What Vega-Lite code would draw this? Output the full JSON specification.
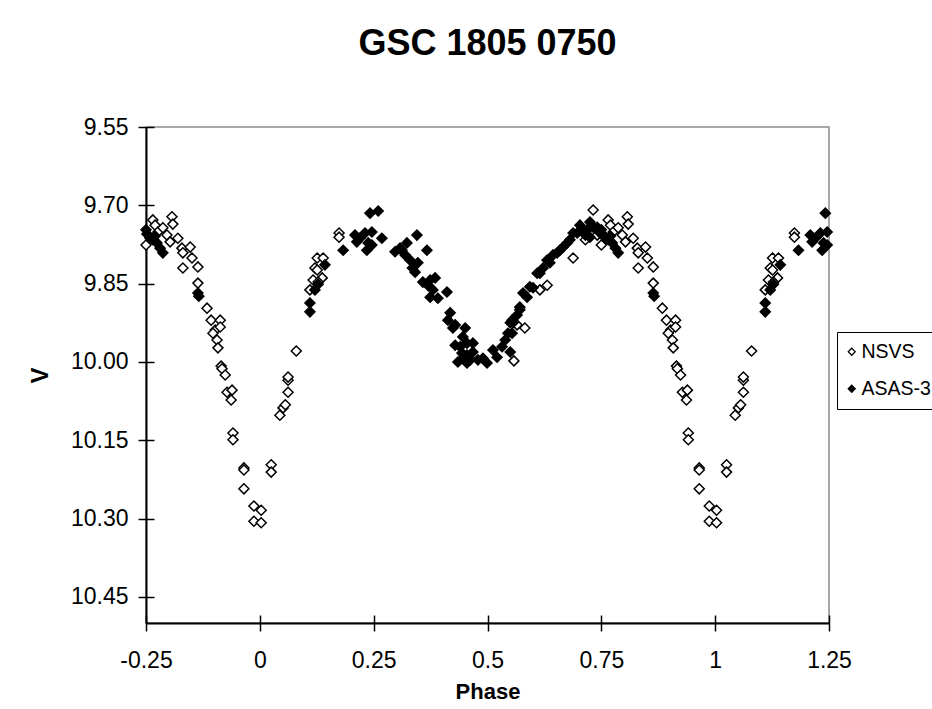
{
  "$schema": "https://vega.github.io/schema/vega-lite/v6.json",
  "width": 683,
  "height": 496,
  "autosize": "none",
  "padding": {"left": 146, "top": 127, "right": 103, "bottom": 86},
  "background": "white",
  "title": {"text": "GSC 1805 0750", "font": "Liberation Sans", "fontSize": 36, "fontWeight": "bold", "color": "black", "anchor": "middle", "baseline": "alphabetic", "offset": 25},
  "config": {
    "view": {"stroke": "#8c8c8c", "strokeWidth": 1.5},
    "axis": {"grid": false, "labelFlush": false, "labelFont": "Liberation Sans", "labelFontSize": 23, "labelColor": "black", "tickColor": "black", "tickWidth": 1.5, "tickSize": 8, "domainColor": "black", "domainWidth": 2, "titleFont": "Liberation Sans", "titleColor": "black", "titleFontWeight": "bold"}
  },
  "data": {"values": [
    {"p": -0.25, "v": 9.776, "s": "NSVS"}, {"p": -0.241, "v": 9.761, "s": "NSVS"}, {"p": -0.235, "v": 9.728, "s": "NSVS"}, {"p": -0.23, "v": 9.738, "s": "NSVS"}, {"p": -0.224, "v": 9.751, "s": "NSVS"}, {"p": -0.213, "v": 9.743, "s": "NSVS"}, {"p": -0.204, "v": 9.757, "s": "NSVS"}, {"p": -0.197, "v": 9.77, "s": "NSVS"}, {"p": -0.193, "v": 9.722, "s": "NSVS"}, {"p": -0.191, "v": 9.736, "s": "NSVS"},
    {"p": -0.18, "v": 9.763, "s": "NSVS"}, {"p": -0.171, "v": 9.782, "s": "NSVS"}, {"p": -0.169, "v": 9.791, "s": "NSVS"}, {"p": -0.153, "v": 9.78, "s": "NSVS"}, {"p": -0.149, "v": 9.801, "s": "NSVS"}, {"p": -0.169, "v": 9.82, "s": "NSVS"}, {"p": -0.136, "v": 9.818, "s": "NSVS"}, {"p": -0.136, "v": 9.849, "s": "NSVS"}, {"p": -0.116, "v": 9.897, "s": "NSVS"}, {"p": -0.107, "v": 9.92, "s": "NSVS"},
    {"p": -0.087, "v": 9.92, "s": "NSVS"}, {"p": -0.098, "v": 9.939, "s": "NSVS"}, {"p": -0.087, "v": 9.933, "s": "NSVS"}, {"p": -0.094, "v": 9.958, "s": "NSVS"}, {"p": -0.092, "v": 9.973, "s": "NSVS"}, {"p": -0.103, "v": 9.945, "s": "NSVS"}, {"p": -0.085, "v": 10.008, "s": "NSVS"}, {"p": -0.083, "v": 10.013, "s": "NSVS"}, {"p": -0.076, "v": 10.025, "s": "NSVS"}, {"p": -0.072, "v": 10.058, "s": "NSVS"},
    {"p": -0.061, "v": 10.054, "s": "NSVS"}, {"p": -0.063, "v": 10.073, "s": "NSVS"}, {"p": -0.059, "v": 10.136, "s": "NSVS"}, {"p": -0.059, "v": 10.149, "s": "NSVS"}, {"p": -0.035, "v": 10.203, "s": "NSVS"}, {"p": -0.035, "v": 10.207, "s": "NSVS"}, {"p": -0.035, "v": 10.243, "s": "NSVS"}, {"p": -0.013, "v": 10.276, "s": "NSVS"}, {"p": 0.003, "v": 10.284, "s": "NSVS"}, {"p": -0.013, "v": 10.305, "s": "NSVS"},
    {"p": 0.003, "v": 10.308, "s": "NSVS"}, {"p": 0.025, "v": 10.197, "s": "NSVS"}, {"p": 0.025, "v": 10.211, "s": "NSVS"}, {"p": 0.044, "v": 10.102, "s": "NSVS"}, {"p": 0.051, "v": 10.088, "s": "NSVS"}, {"p": 0.056, "v": 10.082, "s": "NSVS"}, {"p": 0.062, "v": 10.058, "s": "NSVS"}, {"p": 0.062, "v": 10.035, "s": "NSVS"}, {"p": 0.062, "v": 10.029, "s": "NSVS"}, {"p": 0.08, "v": 9.979, "s": "NSVS"},
    {"p": 0.11, "v": 9.862, "s": "NSVS"}, {"p": 0.117, "v": 9.843, "s": "NSVS"}, {"p": 0.126, "v": 9.801, "s": "NSVS"}, {"p": 0.139, "v": 9.801, "s": "NSVS"}, {"p": 0.121, "v": 9.82, "s": "NSVS"}, {"p": 0.126, "v": 9.824, "s": "NSVS"}, {"p": 0.137, "v": 9.839, "s": "NSVS"}, {"p": 0.128, "v": 9.847, "s": "NSVS"}, {"p": 0.174, "v": 9.753, "s": "NSVS"}, {"p": 0.174, "v": 9.761, "s": "NSVS"},
    {"p": 0.75, "v": 9.776, "s": "NSVS"}, {"p": 0.759, "v": 9.761, "s": "NSVS"}, {"p": 0.765, "v": 9.728, "s": "NSVS"}, {"p": 0.77, "v": 9.738, "s": "NSVS"}, {"p": 0.776, "v": 9.751, "s": "NSVS"}, {"p": 0.787, "v": 9.743, "s": "NSVS"}, {"p": 0.796, "v": 9.757, "s": "NSVS"}, {"p": 0.803, "v": 9.77, "s": "NSVS"}, {"p": 0.807, "v": 9.722, "s": "NSVS"}, {"p": 0.809, "v": 9.736, "s": "NSVS"},
    {"p": 0.82, "v": 9.763, "s": "NSVS"}, {"p": 0.829, "v": 9.782, "s": "NSVS"}, {"p": 0.831, "v": 9.791, "s": "NSVS"}, {"p": 0.847, "v": 9.78, "s": "NSVS"}, {"p": 0.851, "v": 9.801, "s": "NSVS"}, {"p": 0.831, "v": 9.82, "s": "NSVS"}, {"p": 0.864, "v": 9.818, "s": "NSVS"}, {"p": 0.864, "v": 9.849, "s": "NSVS"}, {"p": 0.884, "v": 9.897, "s": "NSVS"}, {"p": 0.893, "v": 9.92, "s": "NSVS"},
    {"p": 0.913, "v": 9.92, "s": "NSVS"}, {"p": 0.902, "v": 9.939, "s": "NSVS"}, {"p": 0.913, "v": 9.933, "s": "NSVS"}, {"p": 0.906, "v": 9.958, "s": "NSVS"}, {"p": 0.908, "v": 9.973, "s": "NSVS"}, {"p": 0.897, "v": 9.945, "s": "NSVS"}, {"p": 0.915, "v": 10.008, "s": "NSVS"}, {"p": 0.917, "v": 10.013, "s": "NSVS"}, {"p": 0.924, "v": 10.025, "s": "NSVS"}, {"p": 0.928, "v": 10.058, "s": "NSVS"},
    {"p": 0.939, "v": 10.054, "s": "NSVS"}, {"p": 0.937, "v": 10.073, "s": "NSVS"}, {"p": 0.941, "v": 10.136, "s": "NSVS"}, {"p": 0.941, "v": 10.149, "s": "NSVS"}, {"p": 0.965, "v": 10.203, "s": "NSVS"}, {"p": 0.965, "v": 10.207, "s": "NSVS"}, {"p": 0.965, "v": 10.243, "s": "NSVS"}, {"p": 0.987, "v": 10.276, "s": "NSVS"}, {"p": 1.003, "v": 10.284, "s": "NSVS"}, {"p": 0.987, "v": 10.305, "s": "NSVS"},
    {"p": 1.003, "v": 10.308, "s": "NSVS"}, {"p": 1.025, "v": 10.197, "s": "NSVS"}, {"p": 1.025, "v": 10.211, "s": "NSVS"}, {"p": 1.044, "v": 10.102, "s": "NSVS"}, {"p": 1.051, "v": 10.088, "s": "NSVS"}, {"p": 1.056, "v": 10.082, "s": "NSVS"}, {"p": 1.062, "v": 10.058, "s": "NSVS"}, {"p": 1.062, "v": 10.035, "s": "NSVS"}, {"p": 1.062, "v": 10.029, "s": "NSVS"}, {"p": 1.08, "v": 9.979, "s": "NSVS"},
    {"p": 1.11, "v": 9.862, "s": "NSVS"}, {"p": 1.117, "v": 9.843, "s": "NSVS"}, {"p": 1.126, "v": 9.801, "s": "NSVS"}, {"p": 1.139, "v": 9.801, "s": "NSVS"}, {"p": 1.121, "v": 9.82, "s": "NSVS"}, {"p": 1.126, "v": 9.824, "s": "NSVS"}, {"p": 1.137, "v": 9.839, "s": "NSVS"}, {"p": 1.128, "v": 9.847, "s": "NSVS"}, {"p": 1.174, "v": 9.753, "s": "NSVS"}, {"p": 1.174, "v": 9.761, "s": "NSVS"},
    {"p": 0.558, "v": 9.998, "s": "NSVS"}, {"p": 0.565, "v": 9.929, "s": "NSVS"}, {"p": 0.582, "v": 9.935, "s": "NSVS"}, {"p": 0.615, "v": 9.862, "s": "NSVS"}, {"p": 0.631, "v": 9.853, "s": "NSVS"}, {"p": 0.688, "v": 9.801, "s": "NSVS"}, {"p": 0.732, "v": 9.709, "s": "NSVS"}, {"p": 0.741, "v": 9.757, "s": "NSVS"}, {"p": 0.715, "v": 9.766, "s": "NSVS"},
    {"p": -0.25, "v": 9.747, "s": "ASAS-3"}, {"p": -0.248, "v": 9.755, "s": "ASAS-3"}, {"p": -0.241, "v": 9.763, "s": "ASAS-3"}, {"p": -0.235, "v": 9.766, "s": "ASAS-3"}, {"p": -0.23, "v": 9.759, "s": "ASAS-3"}, {"p": -0.226, "v": 9.772, "s": "ASAS-3"}, {"p": -0.219, "v": 9.782, "s": "ASAS-3"}, {"p": -0.213, "v": 9.791, "s": "ASAS-3"}, {"p": -0.136, "v": 9.868, "s": "ASAS-3"}, {"p": -0.134, "v": 9.874, "s": "ASAS-3"},
    {"p": 0.75, "v": 9.747, "s": "ASAS-3"}, {"p": 0.752, "v": 9.755, "s": "ASAS-3"}, {"p": 0.759, "v": 9.763, "s": "ASAS-3"}, {"p": 0.765, "v": 9.766, "s": "ASAS-3"}, {"p": 0.77, "v": 9.759, "s": "ASAS-3"}, {"p": 0.774, "v": 9.772, "s": "ASAS-3"}, {"p": 0.781, "v": 9.782, "s": "ASAS-3"}, {"p": 0.787, "v": 9.791, "s": "ASAS-3"}, {"p": 0.864, "v": 9.868, "s": "ASAS-3"}, {"p": 0.866, "v": 9.874, "s": "ASAS-3"},
    {"p": 0.11, "v": 9.887, "s": "ASAS-3"}, {"p": 0.11, "v": 9.904, "s": "ASAS-3"}, {"p": 0.121, "v": 9.862, "s": "ASAS-3"}, {"p": 0.128, "v": 9.851, "s": "ASAS-3"}, {"p": 0.143, "v": 9.814, "s": "ASAS-3"}, {"p": 0.183, "v": 9.786, "s": "ASAS-3"}, {"p": 0.209, "v": 9.757, "s": "ASAS-3"}, {"p": 0.213, "v": 9.77, "s": "ASAS-3"}, {"p": 0.22, "v": 9.763, "s": "ASAS-3"}, {"p": 0.231, "v": 9.753, "s": "ASAS-3"}, {"p": 0.235, "v": 9.786, "s": "ASAS-3"}, {"p": 0.238, "v": 9.772, "s": "ASAS-3"}, {"p": 0.242, "v": 9.715, "s": "ASAS-3"}, {"p": 0.246, "v": 9.751, "s": "ASAS-3"}, {"p": 0.246, "v": 9.776, "s": "ASAS-3"},
    {"p": 1.11, "v": 9.887, "s": "ASAS-3"}, {"p": 1.11, "v": 9.904, "s": "ASAS-3"}, {"p": 1.121, "v": 9.862, "s": "ASAS-3"}, {"p": 1.128, "v": 9.851, "s": "ASAS-3"}, {"p": 1.143, "v": 9.814, "s": "ASAS-3"}, {"p": 1.183, "v": 9.786, "s": "ASAS-3"}, {"p": 1.209, "v": 9.757, "s": "ASAS-3"}, {"p": 1.213, "v": 9.77, "s": "ASAS-3"}, {"p": 1.22, "v": 9.763, "s": "ASAS-3"}, {"p": 1.231, "v": 9.753, "s": "ASAS-3"}, {"p": 1.235, "v": 9.786, "s": "ASAS-3"}, {"p": 1.238, "v": 9.772, "s": "ASAS-3"}, {"p": 1.242, "v": 9.715, "s": "ASAS-3"}, {"p": 1.246, "v": 9.751, "s": "ASAS-3"}, {"p": 1.246, "v": 9.776, "s": "ASAS-3"},
    {"p": 0.26, "v": 9.711, "s": "ASAS-3"}, {"p": 0.268, "v": 9.763, "s": "ASAS-3"}, {"p": 0.297, "v": 9.789, "s": "ASAS-3"}, {"p": 0.308, "v": 9.782, "s": "ASAS-3"}, {"p": 0.312, "v": 9.786, "s": "ASAS-3"}, {"p": 0.319, "v": 9.795, "s": "ASAS-3"}, {"p": 0.323, "v": 9.772, "s": "ASAS-3"}, {"p": 0.33, "v": 9.805, "s": "ASAS-3"}, {"p": 0.335, "v": 9.82, "s": "ASAS-3"}, {"p": 0.345, "v": 9.757, "s": "ASAS-3"},
    {"p": 0.347, "v": 9.81, "s": "ASAS-3"}, {"p": 0.341, "v": 9.828, "s": "ASAS-3"}, {"p": 0.367, "v": 9.786, "s": "ASAS-3"}, {"p": 0.358, "v": 9.847, "s": "ASAS-3"}, {"p": 0.369, "v": 9.853, "s": "ASAS-3"}, {"p": 0.374, "v": 9.843, "s": "ASAS-3"}, {"p": 0.385, "v": 9.839, "s": "ASAS-3"}, {"p": 0.38, "v": 9.862, "s": "ASAS-3"}, {"p": 0.374, "v": 9.876, "s": "ASAS-3"}, {"p": 0.391, "v": 9.878, "s": "ASAS-3"},
    {"p": 0.411, "v": 9.866, "s": "ASAS-3"}, {"p": 0.418, "v": 9.906, "s": "ASAS-3"}, {"p": 0.413, "v": 9.92, "s": "ASAS-3"}, {"p": 0.424, "v": 9.935, "s": "ASAS-3"}, {"p": 0.429, "v": 9.929, "s": "ASAS-3"}, {"p": 0.451, "v": 9.935, "s": "ASAS-3"}, {"p": 0.446, "v": 9.952, "s": "ASAS-3"}, {"p": 0.44, "v": 9.971, "s": "ASAS-3"}, {"p": 0.455, "v": 9.964, "s": "ASAS-3"}, {"p": 0.468, "v": 9.964, "s": "ASAS-3"},
    {"p": 0.444, "v": 9.983, "s": "ASAS-3"}, {"p": 0.455, "v": 9.987, "s": "ASAS-3"}, {"p": 0.462, "v": 9.996, "s": "ASAS-3"}, {"p": 0.468, "v": 9.981, "s": "ASAS-3"}, {"p": 0.446, "v": 9.993, "s": "ASAS-3"}, {"p": 0.435, "v": 10.0, "s": "ASAS-3"}, {"p": 0.455, "v": 10.002, "s": "ASAS-3"}, {"p": 0.429, "v": 9.968, "s": "ASAS-3"}, {"p": 0.479, "v": 9.996, "s": "ASAS-3"}, {"p": 0.49, "v": 9.993, "s": "ASAS-3"},
    {"p": 0.499, "v": 10.002, "s": "ASAS-3"}, {"p": 0.512, "v": 9.977, "s": "ASAS-3"}, {"p": 0.521, "v": 9.991, "s": "ASAS-3"}, {"p": 0.532, "v": 9.971, "s": "ASAS-3"}, {"p": 0.545, "v": 9.945, "s": "ASAS-3"}, {"p": 0.539, "v": 9.958, "s": "ASAS-3"}, {"p": 0.55, "v": 9.925, "s": "ASAS-3"}, {"p": 0.55, "v": 9.981, "s": "ASAS-3"}, {"p": 0.554, "v": 9.945, "s": "ASAS-3"}, {"p": 0.554, "v": 9.92, "s": "ASAS-3"},
    {"p": 0.556, "v": 9.925, "s": "ASAS-3"}, {"p": 0.565, "v": 9.91, "s": "ASAS-3"}, {"p": 0.571, "v": 9.9, "s": "ASAS-3"}, {"p": 0.571, "v": 9.895, "s": "ASAS-3"}, {"p": 0.578, "v": 9.868, "s": "ASAS-3"}, {"p": 0.587, "v": 9.876, "s": "ASAS-3"}, {"p": 0.593, "v": 9.856, "s": "ASAS-3"}, {"p": 0.6, "v": 9.858, "s": "ASAS-3"}, {"p": 0.609, "v": 9.83, "s": "ASAS-3"}, {"p": 0.615, "v": 9.83, "s": "ASAS-3"},
    {"p": 0.622, "v": 9.82, "s": "ASAS-3"}, {"p": 0.631, "v": 9.805, "s": "ASAS-3"}, {"p": 0.637, "v": 9.81, "s": "ASAS-3"}, {"p": 0.644, "v": 9.795, "s": "ASAS-3"}, {"p": 0.653, "v": 9.791, "s": "ASAS-3"}, {"p": 0.659, "v": 9.786, "s": "ASAS-3"}, {"p": 0.666, "v": 9.78, "s": "ASAS-3"}, {"p": 0.675, "v": 9.772, "s": "ASAS-3"}, {"p": 0.681, "v": 9.766, "s": "ASAS-3"}, {"p": 0.688, "v": 9.753, "s": "ASAS-3"},
    {"p": 0.697, "v": 9.753, "s": "ASAS-3"}, {"p": 0.703, "v": 9.738, "s": "ASAS-3"}, {"p": 0.71, "v": 9.747, "s": "ASAS-3"}, {"p": 0.715, "v": 9.757, "s": "ASAS-3"}, {"p": 0.719, "v": 9.747, "s": "ASAS-3"}, {"p": 0.725, "v": 9.732, "s": "ASAS-3"}, {"p": 0.725, "v": 9.761, "s": "ASAS-3"}, {"p": 0.732, "v": 9.742, "s": "ASAS-3"}, {"p": 0.741, "v": 9.742, "s": "ASAS-3"}, {"p": 0.747, "v": 9.753, "s": "ASAS-3"}
  ]},
  "layer": [
    {
      "mark": {"type": "point", "shape": "diamond", "filled": true, "size": 100, "stroke": "black", "strokeWidth": 1.5, "opacity": 1},
      "encoding": {
        "x": {"field": "p", "type": "quantitative", "title": "Phase",
          "scale": {"domain": [-0.25, 1.25], "nice": false, "zero": false},
          "axis": {"orient": "bottom", "values": [-0.25, 0, 0.25, 0.5, 0.75, 1, 1.25], "labelExpr": "datum.value == 0 ? '0' : datum.value == 1 ? '1' : replace(format(datum.value, '.2~f'), '−', '-')", "labelPadding": 18, "titleFontSize": 22, "titlePadding": 9}},
        "y": {"field": "v", "type": "quantitative", "title": "V",
          "scale": {"domain": [9.55, 10.5], "nice": false, "zero": false, "reverse": true},
          "axis": {"orient": "left", "values": [9.55, 9.7, 9.85, 10.0, 10.15, 10.3, 10.45], "format": ".2f", "labelPadding": 10, "titleFontSize": 24, "titlePadding": 18}},
        "fill": {"field": "s", "type": "nominal",
          "scale": {"domain": ["NSVS", "ASAS-3"], "range": ["white", "black"]},
          "legend": {"title": null, "orient": "none", "legendX": 691, "legendY": 205, "strokeColor": "black", "fillColor": "white", "padding": 10, "rowPadding": 16, "symbolSize": 50, "symbolOffset": -5, "symbolType": "diamond", "symbolStrokeColor": "black", "symbolStrokeWidth": 1.2, "labelFont": "Liberation Sans", "labelFontSize": 19.5, "labelColor": "black", "labelOffset": 0}}
      }
    },
    {
      "mark": {"type": "point", "shape": "diamond", "size": 0, "opacity": 0},
      "encoding": {
        "x": {"field": "p", "type": "quantitative",
          "axis": {"orient": "bottom", "values": [-0.25, 0, 0.25, 0.5, 0.75, 1, 1.25], "tickSize": -8, "labels": false, "domain": false, "title": null}},
        "y": {"field": "v", "type": "quantitative",
          "axis": {"orient": "left", "values": [9.55, 9.7, 9.85, 10.0, 10.15, 10.3, 10.45], "tickSize": -8, "labels": false, "domain": false, "title": null}}
      }
    }
  ],
  "resolve": {"axis": {"x": "independent", "y": "independent"}}
}
